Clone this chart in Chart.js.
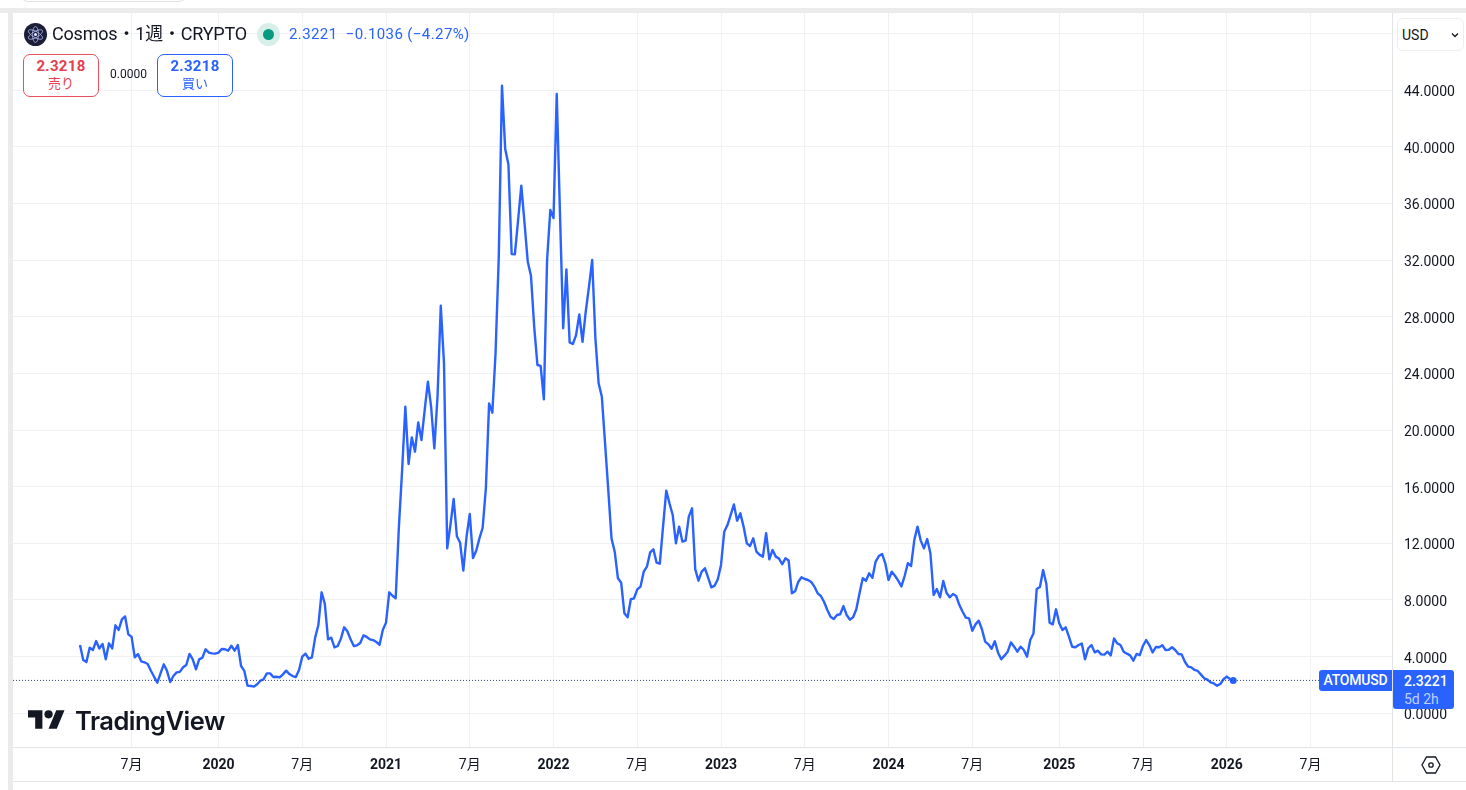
<!DOCTYPE html>
<html lang="ja">
<head>
<meta charset="utf-8">
<title>ATOMUSD</title>
<script src="https://cdn.jsdelivr.net/npm/chart.js@4"></script>
<style>
    html, body { margin: 0; padding: 0; background: #fff; overflow: hidden; }
    body { width: 1466px; height: 790px; position: relative; font-family: Roboto, "Noto Sans CJK JP", sans-serif; color: #131722; }
    #chart { position: absolute; left: 0; top: 0; }
    .abs { position: absolute; white-space: nowrap; }
    .trade { position: absolute; top: 54px; width: 74px; height: 41px; border: 1px solid; border-radius: 7px; text-align: center; background: #fff; }
    .trade b { display: block; font-size: 15px; font-weight: 700; line-height: 17px; margin-top: 3px; letter-spacing: .3px; }
    .trade span { display: block; font-size: 13px; line-height: 17px; }
</style>
</head>
<body>
<canvas id="chart" width="1466" height="790"></canvas>

<!-- frame -->
<div class="abs" style="left:0;top:8px;width:1466px;height:5px;background:#ebebeb"></div>
<div class="abs" style="left:8px;top:8px;width:5px;height:782px;background:#ebebeb"></div>
<div class="abs" style="left:20px;top:-20px;width:165px;height:20px;border:1px solid #e0e0e0;border-radius:8px"></div>
<div class="abs" style="left:1392px;top:747px;width:74px;height:1px;background:#e0e3e7"></div>
<div class="abs" style="left:13px;top:781px;width:1453px;height:1px;background:#e0e3e7"></div>
<div class="abs" style="left:1392px;top:747px;width:1px;height:34px;background:#e0e3e7"></div>

<!-- header -->
<svg class="abs" style="left:24px;top:23px" width="23" height="23" viewBox="0 0 23 23">
    <circle cx="11.5" cy="11.5" r="11.5" fill="#1b1e36"/>
    <g fill="none" stroke="#aab4e8" stroke-width=".8">
        <ellipse cx="11.5" cy="11.5" rx="3" ry="8"/>
        <ellipse cx="11.5" cy="11.5" rx="3" ry="8" transform="rotate(60 11.5 11.5)"/>
        <ellipse cx="11.5" cy="11.5" rx="3" ry="8" transform="rotate(-60 11.5 11.5)"/>
    </g>
    <circle cx="11.5" cy="11.5" r="1.6" fill="#dfe3ff"/>
</svg>
<div class="abs" style="left:52px;top:22px;font-size:18px;line-height:24px;letter-spacing:-.2px">Cosmos・1週・CRYPTO</div>
<div class="abs" style="left:257px;top:23px;width:23px;height:23px;border-radius:50%;background:#d8efe9"></div>
<div class="abs" style="left:263px;top:29px;width:11px;height:11px;border-radius:50%;background:#089981"></div>
<div class="abs" style="left:289px;top:24px;font-size:15px;line-height:20px;letter-spacing:.4px;color:#2962ff;white-space:pre">2.3221  −0.1036 (−4.27%)</div>

<div class="trade" style="left:23px;border-color:#e5505c;color:#e5404e"><b>2.3218</b><span>売り</span></div>
<div class="abs" style="left:110px;top:67px;font-size:12px;line-height:15px">0.0000</div>
<div class="trade" style="left:157px;border-color:#2962ff;color:#2962ff"><b>2.3218</b><span>買い</span></div>

<!-- currency picker -->
<div class="abs" style="left:1397px;top:18px;width:65px;height:31px;border:1px solid #eeeeee;border-radius:6px;background:#fff"></div>
<div class="abs" style="left:1402px;top:26px;font-size:14px;line-height:18px">USD</div>
<svg class="abs" style="left:1451px;top:32px" width="8" height="6" viewBox="0 0 8 6"><path d="M1 1.5l3 3 3-3" fill="none" stroke="#131722" stroke-width="1.3"/></svg>

<!-- price tags -->
<div class="abs" style="left:1319px;top:670px;width:73px;height:21px;background:#2962ff;border-radius:3px 0 0 3px;color:#fff;font-size:14px;font-weight:500;letter-spacing:-.2px;line-height:21px;text-align:center">ATOMUSD</div>
<div class="abs" style="left:1393px;top:670px;width:61px;height:39px;background:#2962ff;border-radius:0 3px 3px 3px;color:#fff;font-size:14px;font-weight:500;line-height:18px;padding-top:2px;box-sizing:border-box">
    <div style="padding-left:11px">2.3221</div>
    <div style="padding-left:11px;color:#bfd0ff;font-weight:400">5d 2h</div>
</div>

<!-- logo -->
<svg class="abs" style="left:28px;top:706px" width="37" height="29" viewBox="0 0 36 28"><path fill="#131722" d="M14 22H7V11H0V4h14v18zM28 22h-8l7.5-18h8L28 22z"/><circle fill="#131722" cx="20" cy="8" r="4"/></svg>
<div class="abs" style="left:75px;top:704px;font-family:Inter,Roboto,sans-serif;font-size:25.5px;font-weight:600;line-height:34px;letter-spacing:-.5px;color:#131722">TradingView</div>

<!-- settings icon -->
<svg class="abs" style="left:1421px;top:756px" width="20" height="18" viewBox="0 0 20 18"><path d="M5.5 1h9l4.5 8-4.5 8h-9L1 9z" fill="none" stroke="#131722" stroke-width="1.3"/><circle cx="10" cy="9" r="2.2" fill="none" stroke="#131722" stroke-width="1.3"/></svg>

<script>
// weekly closes, first bar is spring 2019
const prices = [
    4.82, 3.76, 3.62, 4.63, 4.47, 5.1, 4.58, 4.89, 3.81, 4.94,
    4.58, 6.21, 5.88, 6.63, 6.84, 5.57, 5.41, 3.95, 4.18, 3.67,
    3.6, 3.48, 3.0, 2.58, 2.16, 2.82, 3.46, 3.0, 2.21, 2.63,
    2.89, 2.92, 3.25, 3.41, 4.19, 3.81, 3.1, 3.81, 3.93, 4.52,
    4.28, 4.23, 4.21, 4.28, 4.54, 4.52, 4.42, 4.77, 4.42, 4.82,
    3.34, 3.0, 1.95, 1.93, 1.88, 2.05, 2.3, 2.4, 2.82, 2.82,
    2.56, 2.58, 2.54, 2.75, 3.01, 2.77, 2.63, 2.56, 3.06, 4.0,
    4.21, 3.85, 3.95, 5.34, 6.23, 8.54, 7.72, 5.22, 5.34, 4.66,
    4.75, 5.27, 6.07, 5.79, 5.22, 4.75, 4.8, 4.96, 5.5, 5.39,
    5.22, 5.17, 5.03, 4.84, 5.88, 6.4, 8.54, 8.3, 8.12, 13.17,
    17.17, 21.64, 17.6, 19.48, 18.47, 20.54, 19.29, 21.4, 23.41, 21.64,
    18.7, 22.4, 28.77, 24.7, 11.65, 13.3, 15.13, 12.5, 12.04, 10.07,
    12.47, 14.07, 10.96, 11.48, 12.35, 13.1, 15.88, 21.88, 21.22, 25.4,
    32.2, 44.3, 39.83, 38.75, 32.42, 32.4, 34.82, 37.25, 34.6, 31.88,
    30.89, 27.3, 24.59, 24.52, 22.16, 32.0, 35.53, 34.96, 43.72, 35.3,
    27.18, 31.34, 26.19, 26.07, 26.7, 28.16, 26.23, 28.35, 30.1, 32.0,
    26.47, 23.3, 22.35, 19.06, 15.76, 12.35, 11.41, 9.53, 9.22, 7.06,
    6.78, 8.05, 8.12, 8.75, 8.94, 10.0, 10.35, 11.36, 11.58, 10.63,
    10.56, 13.18, 15.72, 14.82, 14.0, 12.0, 13.18, 12.12, 12.19, 13.88,
    14.47, 10.16, 9.36, 10.0, 10.24, 9.57, 8.89, 9.01, 9.46, 10.47,
    12.82, 13.29, 14.0, 14.75, 13.6, 14.12, 13.18, 12.0, 11.81, 12.35,
    11.41, 11.18, 11.06, 12.71, 10.87, 11.53, 11.06, 10.92, 10.52, 10.94,
    10.78, 8.47, 8.61, 9.29, 9.6, 9.48, 9.41, 9.27, 8.94, 8.47,
    8.28, 7.86, 7.29, 6.82, 6.66, 6.94, 6.99, 7.57, 6.94, 6.61,
    6.78, 7.34, 8.47, 9.53, 9.36, 9.88, 9.57, 10.71, 11.1, 11.25,
    10.59, 9.41, 10.0, 9.71, 9.36, 8.96, 9.69, 10.59, 10.4, 12.23,
    13.18, 12.19, 11.64, 12.3, 11.3, 8.35, 8.77, 8.19, 9.34, 8.51,
    8.19, 8.42, 8.28, 7.64, 7.17, 6.75, 6.7, 5.83, 6.28, 6.54,
    5.93, 5.06, 4.87, 4.56, 5.08, 4.28, 3.81, 4.07, 4.35, 5.0,
    4.7, 4.35, 4.7, 4.47, 4.0, 5.17, 5.64, 8.77, 8.91, 10.11,
    9.13, 6.4, 6.28, 7.34, 6.35, 5.88, 6.07, 5.41, 4.7, 4.66,
    4.82, 4.92, 3.81, 4.59, 4.82, 4.3, 4.42, 4.16, 4.14, 4.35,
    4.09, 5.29, 4.94, 4.82, 4.35, 4.21, 4.09, 3.71, 4.19, 4.11,
    4.77, 5.17, 4.8, 4.3, 4.68, 4.66, 4.8, 4.47, 4.49, 4.66,
    4.47, 4.19, 4.16, 3.64, 3.29, 3.24, 3.06, 2.99, 2.73, 2.47,
    2.37, 2.18, 2.11, 1.95, 2.07, 2.4, 2.59, 2.42, 2.3221
];

// time axis: bar number of each label
const tickWeeks = [16, 43, 69, 95, 121, 147, 173, 199, 225, 251, 277, 304, 330, 356, 382];
const tickLabels = ['7月', '2020', '7月', '2021', '7月', '2022', '7月', '2023', '7月', '2024', '7月', '2025', '7月', '2026', '7月'];

// 48 has a gridline but the currency picker sits where its label would be
const priceTicks = [0, 4, 8, 12, 16, 20, 24, 28, 32, 36, 40, 44, 48];

const lastPrice = prices[prices.length - 1];
const lastIndex = prices.length - 1;

const X_MIN = -20.8, X_MAX = 407.3;
const GRID = '#f0f1f3', AXIS = '#e0e3e7', TEXT = '#131722', BLUE = '#2962ff';

new Chart(document.getElementById('chart').getContext('2d'), {
    type: 'line',
    data: {
        datasets: [
            {
                // dotted last-price line
                data: [{ x: X_MIN, y: lastPrice }, { x: X_MAX, y: lastPrice }],
                borderColor: '#2a3f9e',
                borderWidth: 1,
                borderDash: [1, 2],
                pointRadius: 0
            },
            {
                data: prices.map((p, i) => ({ x: i, y: p })),
                borderColor: BLUE,
                backgroundColor: BLUE,
                borderWidth: 2.4,
                tension: 0,
                borderJoinStyle: 'round',
                pointRadius: ctx => ctx.dataIndex === lastIndex ? 3.5 : 0,
                pointBorderWidth: 0
            }
        ]
    },
    options: {
        responsive: false,
        animation: false,
        events: [],
        layout: { padding: { left: 13, top: 13, right: 0, bottom: 9 } },
        plugins: { legend: { display: false }, tooltip: { enabled: false } },
        scales: {
            x: {
                type: 'linear',
                min: X_MIN,
                max: X_MAX,
                afterBuildTicks: s => { s.ticks = tickWeeks.map(v => ({ value: v })); },
                afterFit: s => { s.height = 34; s.paddingLeft = 0; s.paddingRight = 0; },
                grid: { color: GRID, drawTicks: false },
                border: { color: AXIS },
                ticks: {
                    autoSkip: false,
                    maxRotation: 0,
                    padding: 10,
                    color: TEXT,
                    font: ctx => ({
                        family: 'Roboto, "Noto Sans CJK JP", sans-serif',
                        size: 14,
                        weight: ctx.index % 2 === 1 ? '700' : '400'
                    }),
                    callback: (v, i) => tickLabels[i]
                }
            },
            y: {
                position: 'right',
                min: -2.38,
                max: 49.44,
                afterBuildTicks: s => { s.ticks = priceTicks.map(v => ({ value: v })); },
                afterFit: s => { s.width = 74; s.paddingTop = 0; s.paddingBottom = 0; },
                grid: { color: GRID, drawTicks: false },
                border: { color: AXIS },
                ticks: {
                    padding: 12,
                    color: TEXT,
                    // empty first line plus a small lineHeight nudges the label down to sit on its gridline
                    font: { family: 'Roboto, sans-serif', size: 14, lineHeight: '5px' },
                    callback: v => v === 48 ? '' : ['', v.toFixed(4)]
                }
            }
        }
    }
});
</script>
</body>
</html>
